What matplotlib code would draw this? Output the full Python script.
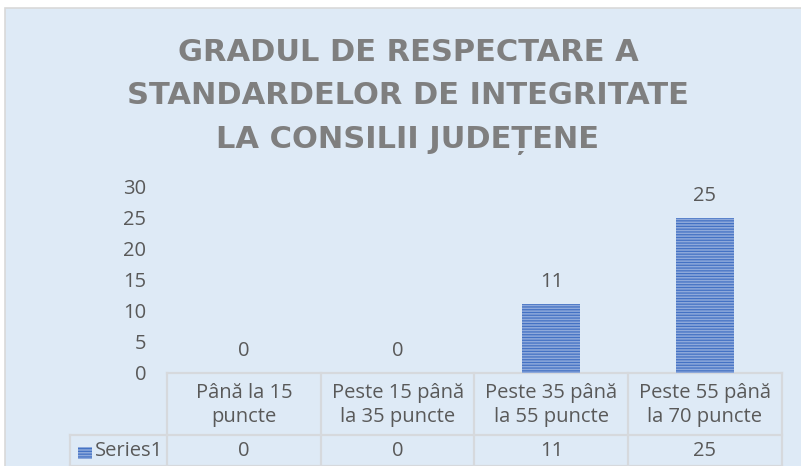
import matplotlib
matplotlib.use("Agg")
import matplotlib.pyplot as plt
from matplotlib.patches import Rectangle

categories = ["Până la 15\npuncte", "Peste 15 până\nla 35 puncte",
              "Peste 35 până\nla 55 puncte", "Peste 55 până\nla 70 puncte"]
values = [0, 0, 11, 25]
series_name = "Series1"
title_lines = ["GRADUL DE RESPECTARE A", "STANDARDELOR DE INTEGRITATE",
               "LA CONSILII JUDEȚENE"]
y_ticks = [0, 5, 10, 15, 20, 25, 30]

BG = "#DEEAF6"
GRID = "#D6D9DD"
TEXT = "#595959"
TITLE = "#7F7F7F"
BAR_FACE = "#8EA9DB"
BAR_HATCH = "#4472C4"
FONT = ["Open Sans", "DejaVu Sans"]
FS = 14.5

plt.rcParams["hatch.linewidth"] = 0.9

W, H = 801, 466
fig = plt.figure(figsize=(W / 100, H / 100), dpi=100)
fig.patch.set_facecolor("white")

# chart area with its thin grey frame
fig.add_artist(Rectangle((4.5 / W, -0.02), 1.05, (H - 7.5) / H + 0.02,
                         transform=fig.transFigure, facecolor=BG,
                         edgecolor="#D9D9D9", linewidth=1.2, zorder=0))

# plot area in pixels: x 167.3..781.7, y 187..372.5 (from top)
ax = fig.add_axes([167.3 / W, (H - 372.5) / H, 614.4 / W, 185.5 / H])
ax.set_facecolor("none")
x = list(range(len(values)))
ax.bar(x, values, width=0.38, color=BAR_FACE, edgecolor=BAR_HATCH,
       hatch="------", linewidth=0, zorder=2)
ax.set_xlim(-0.5, len(values) - 0.5)
ax.set_ylim(0, 30)
ax.set_yticks(y_ticks)
ax.set_xticks([])
ax.tick_params(axis="y", length=0, pad=15, labelsize=FS, labelcolor=TEXT)
for lab in ax.get_yticklabels():
    lab.set_family(FONT)
for s in ax.spines.values():
    s.set_visible(False)

for xi, v in zip(x, values):
    ax.annotate(str(v), (xi, v), xytext=(0, 22), textcoords="offset pixels",
                ha="center", va="center", fontsize=FS, color=TEXT, family=FONT)

# data table under the axis
px_y = 1 / 185.5          # axes-fraction per pixel
px_x = 1 / 153.6          # data units per pixel
tr = ax.get_xaxis_transform()
row1 = -62.5 * px_y
row2 = -93.5 * px_y
left_lbl = -0.5 - (167.3 - 70) * px_x
n = len(values)
lk = dict(color=GRID, lw=1.6, clip_on=False, transform=tr, zorder=1)
ax.plot([-0.5, n - 0.5], [0, 0], **lk)
ax.plot([left_lbl, n - 0.5], [row1, row1], **lk)
ax.plot([left_lbl, n - 0.5], [row2, row2], **lk)
ax.plot([left_lbl, left_lbl], [row1, row2 - 0.1], **lk)
for i in range(n + 1):
    ax.plot([i - 0.5, i - 0.5], [0, row2 - 0.1], **lk)

for xi, cat, v in zip(x, categories, values):
    ax.text(xi, -32.5 * px_y, cat, transform=tr, ha="center", va="center",
            fontsize=FS, color=TEXT, family=FONT, linespacing=1.3)
    ax.text(xi, -78 * px_y, str(v), transform=tr, ha="center", va="center",
            fontsize=FS, color=TEXT, family=FONT)

key_x = -0.5 - (167.3 - 78) * px_x
ax.add_patch(Rectangle((key_x, -86 * px_y), 14 * px_x, 12 * px_y, transform=tr,
                       facecolor=BAR_FACE, edgecolor=BAR_HATCH, hatch="------",
                       linewidth=0, clip_on=False))
ax.text(-0.5 - (167.3 - 95) * px_x, -78 * px_y, series_name, transform=tr,
        ha="left", va="center", fontsize=FS, color=TEXT, family=FONT)

# title, one line at a time (baselines at 61, 103, 148 px from top)
for line, base in zip(title_lines, [61, 103.5, 148]):
    fig.text(408 / W, (H - base) / H, line, ha="center", va="baseline",
             fontsize=22, fontweight="bold", color=TITLE,
             family=["DejaVu Sans"])

fig.savefig("out.png", dpi=100, facecolor=fig.get_facecolor())
